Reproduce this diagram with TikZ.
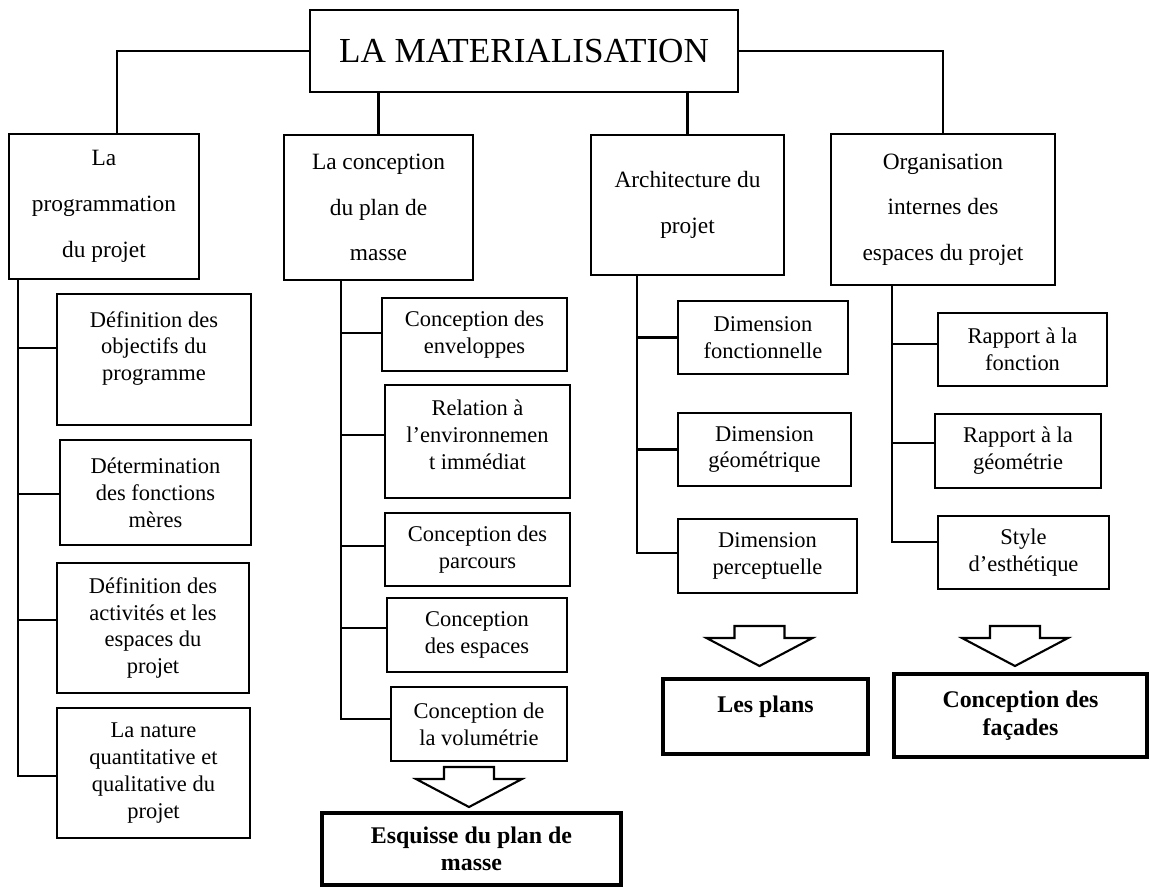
\documentclass[tikz,border=0pt]{standalone}
\usepackage{fontspec}
\setmainfont{Liberation Serif}

% empty last line that lifts the text inside its box
\newcommand{\gap}[1][0pt]{\\[#1]\mbox{}}
% hollow block arrow pointing down, #1 = middle of its top edge
\newcommand{\hollowarrow}[1]{%
  \draw[bigarrow] (#1) ++(-25,0) -- ++(50,0) -- ++(0,12) -- ++(28,0)
    -- ++(-53,28) -- ++(-53,-28) -- ++(28,0) -- cycle;}

\begin{document}
\begin{tikzpicture}[x=0.02cm, y=-0.02cm, line width=1.2pt,
    topbox/.style={draw, line width=1.3pt, minimum width=8.56cm, minimum height=1.64cm,
      font=\fontsize{20}{23.4}\selectfont},
    mainbox/.style={draw, align=center, minimum height=2.9cm,
      font=\fontsize{13.3}{26}\selectfont},
    subbox/.style={draw, align=center, inner sep=2pt, minimum height=1.46cm,
      font=\fontsize{12.8}{15.3}\selectfont},
    resultbox/.style={draw, line width=2.3pt, align=center,
      font=\bfseries\fontsize{13.6}{15.6}\selectfont},
    bigarrow/.style={draw, line width=1.2pt, line join=miter}]
        \useasboundingbox (0,0) rectangle (1150,887);

        \node[topbox] (mat) at (524,51) {LA MATERIALISATION\gap[-12pt]};

        \node[mainbox, minimum width=3.8cm] (prog) at (104,206.5) {La\\programmation\\du projet};
        \node[mainbox, minimum width=3.78cm] (plan) at (378.5,207.5) {La conception\\du plan de\\masse};
        \node[mainbox, minimum width=3.86cm, minimum height=2.8cm] (archi) at (687.5,205) {Architecture du\\projet};
        \node[mainbox, minimum width=4.48cm, minimum height=3.02cm] (orga) at (943,209.5) {Organisation\\internes des\\espaces du projet};

        % programmation
        \node[subbox, minimum width=3.88cm, minimum height=2.62cm] (obj) at (154,359.5) {Définition des\\objectifs du\\programme\gap};
        \node[subbox, minimum width=3.82cm, minimum height=2.1cm] (fonc) at (155.5,492.5) {Détermination\\des fonctions\\mères};
        \node[subbox, minimum width=3.84cm, minimum height=2.6cm] (activ) at (153,628) {Définition des\\activités et les\\espaces du\\projet};
        \node[subbox, minimum width=3.86cm, minimum height=2.6cm] (nature) at (153.5,773) {La nature\\quantitative et\\qualitative du\\projet};

        % plan de masse
        \node[subbox, minimum width=3.7cm] (env) at (474.5,334.5) {Conception des\\enveloppes};
        \node[subbox, minimum width=3.7cm, minimum height=2.26cm] (rel) at (477.5,441.5) {Relation à\\l’environnemen\\t immédiat\gap[-7.9pt]};
        \node[subbox, minimum width=3.7cm] (parc) at (477.5,549.5) {Conception des\\parcours};
        \node[subbox, minimum width=3.6cm, minimum height=1.48cm] (esp) at (477,635) {Conception\\des espaces};
        \node[subbox, minimum width=3.52cm, minimum height=1.48cm] (vol) at (479,724) {Conception de\\la volumétrie};

        % architecture
        \node[subbox, minimum width=3.4cm] (dfonc) at (763,337.5) {Dimension\\fonctionnelle};
        \node[subbox, minimum width=3.46cm] (dgeo) at (764.5,449.5) {Dimension\\géométrique};
        \node[subbox, minimum width=3.58cm, minimum height=1.48cm] (dperc) at (767.5,556) {Dimension\\perceptuelle};

        % organisation
        \node[subbox, minimum width=3.38cm] (rfonc) at (1022.5,349.5) {Rapport à la\\fonction};
        \node[subbox, minimum width=3.32cm, minimum height=1.48cm] (rgeo) at (1018,451) {Rapport à la\\géométrie};
        \node[subbox, minimum width=3.42cm] (style) at (1023.5,552.5) {Style\\d’esthétique};

        \node[resultbox, minimum width=5.98cm, minimum height=1.44cm] (esq) at (471.5,849) {Esquisse du plan de\\masse};
        \node[resultbox, minimum width=4.1cm, minimum height=1.5cm] (plans) at (765.5,716.5) {Les plans\gap[-2pt]};
        \node[resultbox, minimum width=5.06cm, minimum height=1.66cm] (facade) at (1020.5,715.5) {Conception des\\façades};

        \draw (mat.west) -| ([xshift=0.26cm]prog.north);
        \draw (plan.north) -- (plan.north |- mat.south);
        \draw (archi.north) -- (archi.north |- mat.south);
        \draw (mat.east) -| (orga.north);

        \draw ([xshift=0.2cm]prog.south west) |- ([yshift=-0.06cm]nature.west);
        \foreach \n/\s/\l in {obj/0.23/38, fonc/-0.03/41, activ/0.16/38}
            \draw ([yshift=\s cm]\n.west) -- ++(-\l,0);

        \draw ([xshift=1.16cm]plan.south west) |- ([yshift=0.1cm]vol.west);
        \foreach \n/\s/\l in {env/0.03/40, rel/0.13/43, parc/0.07/43, esp/0.14/45}
            \draw ([yshift=\s cm]\n.west) -- ++(-\l,0);

        \draw ([xshift=0.94cm]archi.south west) |- ([yshift=0.06cm]dperc.west);
        \foreach \n/\s/\l in {dfonc/0/40, dgeo/0/40}
            \draw ([yshift=\s cm]\n.west) -- ++(-\l,0);

        \draw ([xshift=1.24cm]orga.south west) |- ([yshift=0.21cm]style.west);
        \foreach \n/\s/\l in {rfonc/0.11/45, rgeo/0.16/42}
            \draw ([yshift=\s cm]\n.west) -- ++(-\l,0);

        \coordinate (a1) at (469,767);
        \coordinate (a2) at (759.5,626);
        \coordinate (a3) at (1015,626);
        \foreach \a in {a1,a2,a3} {\hollowarrow{\a}}

    \end{tikzpicture}
\end{document}
